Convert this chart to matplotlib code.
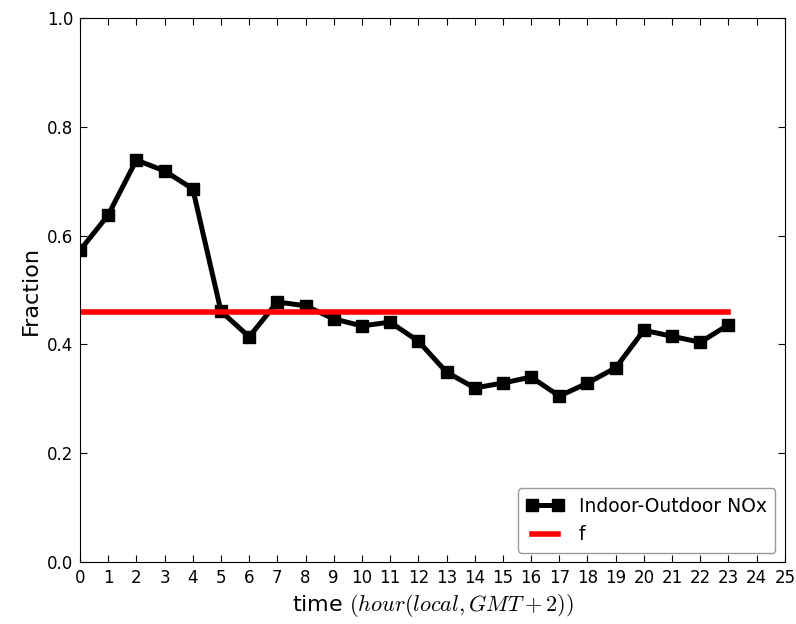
import numpy as np
import matplotlib
matplotlib.use("Agg")
import matplotlib.pyplot as plt

plt.rcParams["mathtext.fontset"] = "cm"

# hourly indoor/outdoor NOx fraction
hours = list(range(24))
fraction = [0.573, 0.638, 0.739, 0.719, 0.686, 0.461, 0.414, 0.478, 0.471, 0.447,
            0.434, 0.441, 0.406, 0.349, 0.320, 0.329, 0.340, 0.305, 0.329, 0.357,
            0.426, 0.415, 0.404, 0.436]
f_value = 0.46

fig = plt.figure(figsize=(7.96, 6.24), dpi=100)
ax = fig.add_axes([0.1005, 0.0994, 0.8855, 0.8716])

ax.plot(hours, fraction, color="black", lw=3.6, marker="s", ms=9,
        label="Indoor-Outdoor NOx")
ax.plot([hours[0], hours[-1]], [f_value, f_value], color="red", lw=4, label="f")

ax.set_xlim(0, 25)
ax.set_ylim(0, 1.0)
ax.set_xticks(range(26))
ax.set_yticks(np.arange(0, 1.01, 0.2))
ax.tick_params(direction="in", top=True, right=True, labelsize=12, length=5, pad=5)
ax.set_xlabel("time $(hour(local,GMT+2))$", fontsize=16)
ax.set_ylabel("Fraction", fontsize=16)
ax.legend(loc="lower right", numpoints=2, fontsize=13.5, fancybox=True,
          handlelength=2.0, borderpad=0.45, edgecolor="0.6", framealpha=1)

fig.savefig("out.png", dpi=100)
